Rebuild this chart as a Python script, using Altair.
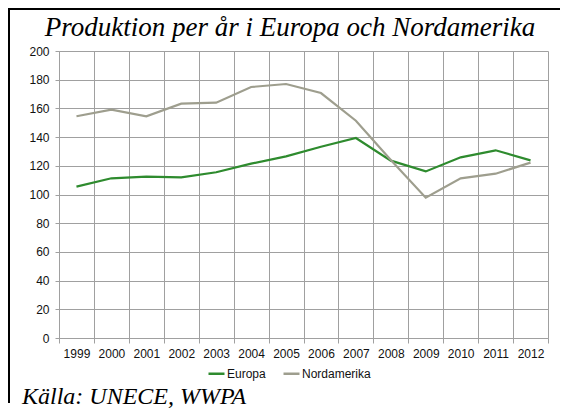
import altair as alt
import pandas as pd

years = [str(y) for y in range(1999, 2013)]
europa = [105.5, 111.3, 112.4, 112.0, 115.5, 121.5, 126.6, 133.3, 139.4, 123.6, 116.1, 125.9, 130.8, 123.8]
nordamerika = [154.5, 159.1, 154.5, 163.3, 164.0, 174.9, 177.0, 170.7, 151.4, 124.0, 97.8, 111.3, 114.5, 122.2]
series = ["Europa", "Nordamerika"]
colors = ["#2E8B2E", "#9E9E8E"]
y_ticks = list(range(0, 201, 20))
title_text = "Produktion per år i Europa och Nordamerika"
source_text = "Källa: UNECE, WWPA"

rows = []
for name, vals in zip(series, [europa, nordamerika]):
    for yr, v in zip(years, vals):
        rows.append({"År": yr, "Värde": v, "Serie": name})
df = pd.DataFrame(rows)

W, H = 489, 287
GRID = "#A0A0A0"

lines = alt.Chart(df).mark_line(strokeWidth=2.2).encode(
    x=alt.X("År:O", sort=years,
            scale=alt.Scale(type="band", paddingInner=0, paddingOuter=0),
            axis=alt.Axis(title=None, labelAngle=0, tickBand="extent", grid=True,
                          gridColor=GRID, domainColor=GRID, tickColor=GRID,
                          tickSize=5, labelPadding=5, labelFontSize=12,
                          labelFont="Liberation Sans", labelColor="#111")),
    y=alt.Y("Värde:Q", scale=alt.Scale(domain=[0, 200], nice=False),
            axis=alt.Axis(title=None, values=y_ticks, grid=True, gridColor=GRID,
                          domainColor=GRID, tickColor=GRID, tickSize=4,
                          labelPadding=6, labelFontSize=12,
                          labelFont="Liberation Sans", labelColor="#111")),
    color=alt.Color("Serie:N", scale=alt.Scale(domain=series, range=colors),
                    legend=alt.Legend(title=None, orient="none", legendX=148, legendY=313,
                                      direction="horizontal", symbolType="stroke",
                                      symbolStrokeWidth=2.5, symbolSize=256,
                                      labelFontSize=12, labelFont="Liberation Sans",
                                      labelColor="#111", labelOffset=1,
                                      columnPadding=12)),
)

one = pd.DataFrame({"a": [0]})

title = alt.Chart(one).mark_text(
    font="Liberation Serif", fontStyle="italic", fontSize=27, align="center",
    baseline="alphabetic", color="#000"
).encode(x=alt.value(231), y=alt.value(-15), text=alt.value(title_text))

source = alt.Chart(one).mark_text(
    font="Liberation Serif", fontStyle="italic", fontSize=24, align="left",
    baseline="alphabetic", color="#000"
).encode(x=alt.value(-37), y=alt.value(353), text=alt.value(source_text))

border_left = alt.Chart(one).mark_rule(color="#000", strokeWidth=2).encode(
    x=alt.value(-50), y=alt.value(-43), y2=alt.value(352))
border_top = alt.Chart(one).mark_rule(color="#000", strokeWidth=2).encode(
    x=alt.value(-51), x2=alt.value(501), y=alt.value(-42))

chart = alt.layer(lines, title, source, border_left, border_top).properties(
    width=W, height=H,
    autosize=alt.AutoSizeParams(type="none"),
    padding={"left": 51, "top": 43, "right": 12, "bottom": 73},
).configure_view(strokeWidth=0)

chart.save("out.html", embed_options={"renderer": "svg", "actions": False})
